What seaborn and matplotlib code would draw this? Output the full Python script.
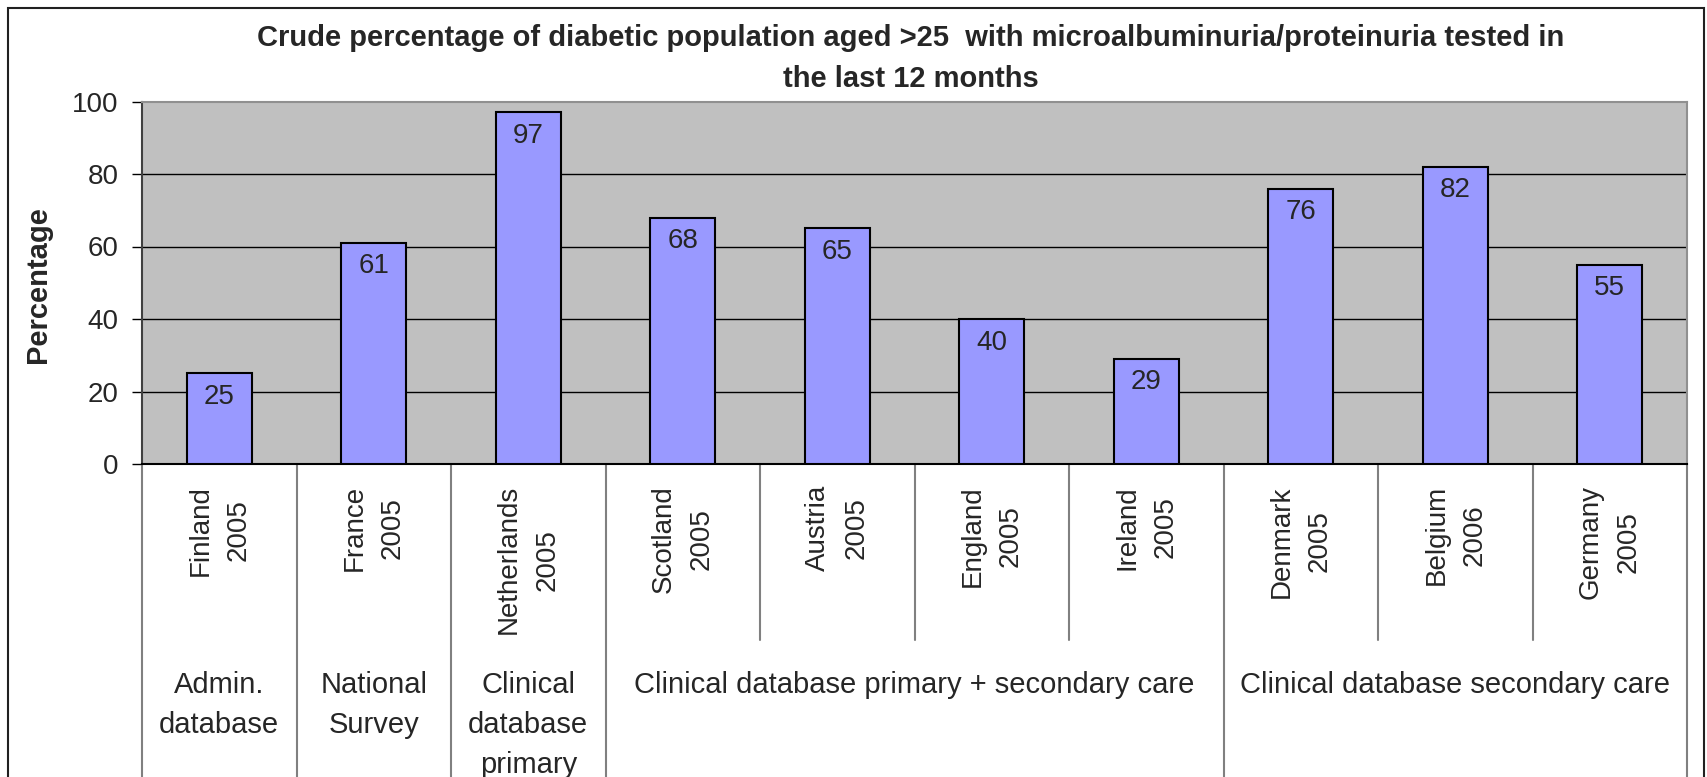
import numpy as np
import pandas as pd
import matplotlib
matplotlib.use("Agg")
import matplotlib.pyplot as plt
import matplotlib.transforms as mtransforms
from matplotlib.patches import Rectangle
import seaborn as sns

# data
countries = ["Finland", "France", "Netherlands", "Scotland", "Austria",
             "England", "Ireland", "Denmark", "Belgium", "Germany"]
years = ["2005", "2005", "2005", "2005", "2005",
         "2005", "2005", "2005", "2006", "2005"]
values = [25, 61, 97, 68, 65, 40, 29, 76, 82, 55]
groups = ["Admin.\ndatabase", "National\nSurvey", "Clinical\ndatabase\nprimary",
          "Clinical database primary + secondary care",
          "Clinical database secondary care"]
group_sizes = [1, 1, 1, 4, 3]

title = ("Crude percentage of diabetic population aged >25  with microalbuminuria/proteinuria tested in\n"
         "the last 12 months")

df = pd.DataFrame({
    "label": [c + "\n" + y for c, y in zip(countries, years)],
    "value": values,
})

sns.set_theme(style="white")
plt.rcParams["font.family"] = ["Liberation Sans", "DejaVu Sans"]

W, H = 1707, 777
y0, y1 = 464, 101.5   # pixel rows of 0 and 100
fig = plt.figure(figsize=(W / 100, H / 100), dpi=100)
ax = fig.add_axes([142 / W, (H - y0) / H, (1687 - 142) / W, (y0 - y1) / H])
ax.set_facecolor("#C0C0C0")

sns.barplot(data=df, x="label", y="value", color="#9999FF", saturation=1,
            edgecolor="black", linewidth=1.5, width=0.42, ax=ax, zorder=3)

ax.set_xlim(-0.5, len(values) - 0.5)
ax.set_ylim(0, 100)
ax.set_yticks(range(0, 101, 20))
for t in range(20, 100, 20):
    ax.axhline(t, color="black", lw=1, zorder=1)

ax.tick_params(axis="y", left=True, length=7, width=1, color="black",
               pad=10, labelsize=20)
ax.tick_params(axis="x", length=0, labelbottom=False)
ax.set_xlabel("")
ax.set_ylabel("Percentage", fontsize=21, fontweight="bold")
ax.yaxis.set_label_coords(-0.0583, 0.495)

for side in ["top", "right"]:
    ax.spines[side].set_color("#909090")
    ax.spines[side].set_linewidth(1.5)
ax.spines["left"].set_color("#404040")
ax.spines["left"].set_linewidth(1.5)
ax.spines["bottom"].set_color("black")
ax.spines["bottom"].set_linewidth(1.5)

# values inside the bars
for p, v in zip(ax.patches, values):
    ax.annotate(str(v), (p.get_x() + p.get_width() / 2, p.get_height()),
                xytext=(0, -22), textcoords="offset points",
                ha="center", va="baseline", fontsize=20, zorder=4)

# multi-level category axis
px = 1 / (y0 - y1)
trans = mtransforms.blended_transform_factory(ax.transData, ax.transAxes)
for i, lab in enumerate(df["label"]):
    ax.text(i, -(485 - y0) * px, lab, transform=trans, rotation=90,
            ha="center", va="top", multialignment="center",
            linespacing=1.6, fontsize=20)

bounds = np.concatenate([[0], np.cumsum(group_sizes)])
for x in range(len(values) + 1):
    bottom = -0.95 if x in bounds else -(640 - y0) * px
    ax.plot([x - 0.5, x - 0.5], [0, bottom], transform=trans,
            color="#808080", lw=1.5, clip_on=False)

for g, start, size in zip(groups, bounds[:-1], group_sizes):
    ax.text(start + (size - 1) / 2, -(671 - y0) * px, g, transform=trans,
            ha="center", va="top", multialignment="center",
            linespacing=1.55, fontsize=21)

fig.text(911 / W, 1 - 24 / H, title, ha="center", va="top",
         fontsize=21, fontweight="bold", linespacing=1.6)

# outer chart frame
fig.add_artist(Rectangle((8 / W, -0.05), (1704 - 8) / W, 1 - 8 / H + 0.05,
                         transform=fig.transFigure, fill=False,
                         edgecolor="#202020", lw=1.5))

fig.savefig("out.png", dpi=100)
